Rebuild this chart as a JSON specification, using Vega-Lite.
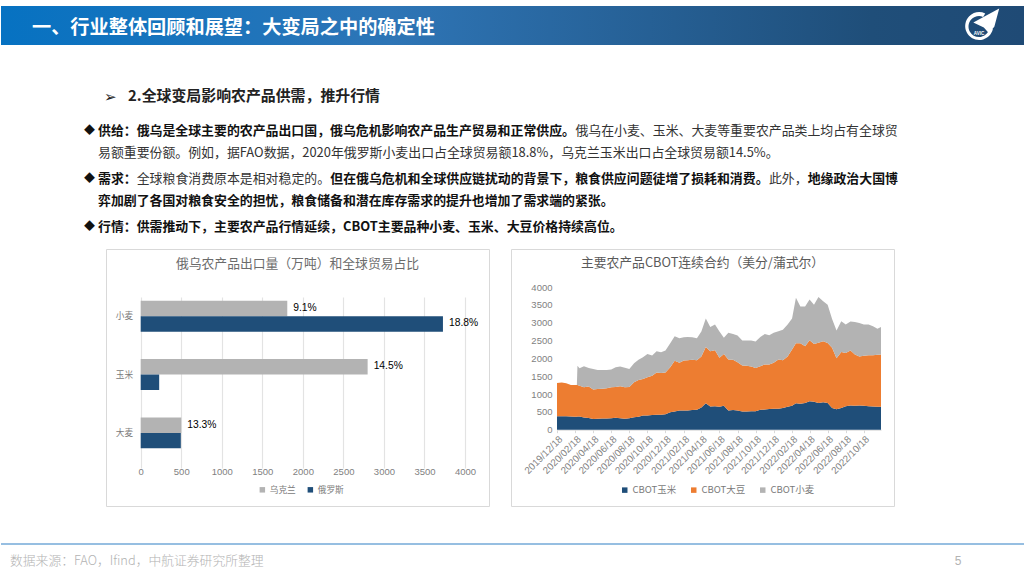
{
"$schema":"https://vega.github.io/schema/vega-lite/v6.json",
"padding":0,
"background":"white",
"bounds":"flush",
"spacing":0,
"resolve":{"scale":{"color":"independent"},"legend":{"color":"independent"}},
"config":{"view":{"stroke":null},"font":"Noto Sans CJK SC","concat":{"spacing":0}},
"datasets":{
"bars":[
{"crop":"小麦","country":"乌克兰","tons":1808,"share":"9.1%"},
{"crop":"小麦","country":"俄罗斯","tons":3728,"share":"18.8%"},
{"crop":"玉米","country":"乌克兰","tons":2799,"share":"14.5%"},
{"crop":"玉米","country":"俄罗斯","tons":228,"share":""},
{"crop":"大麦","country":"乌克兰","tons":500,"share":"13.3%"},
{"crop":"大麦","country":"俄罗斯","tons":495,"share":""}
],
"cbot":[
{"d":"2019-12-18","corn":380,"soy":930,"wheat":0},
{"d":"2020-01-03","corn":380,"soy":940,"wheat":0},
{"d":"2020-01-18","corn":375,"soy":925,"wheat":0},
{"d":"2020-02-03","corn":370,"soy":880,"wheat":0},
{"d":"2020-02-18","corn":365,"soy":885,"wheat":0},
{"d":"2020-02-23","corn":365,"soy":885,"wheat":0},
{"d":"2020-02-25","corn":370,"soy":880,"wheat":540},
{"d":"2020-03-03","corn":370,"soy":860,"wheat":490},
{"d":"2020-03-18","corn":340,"soy":850,"wheat":590},
{"d":"2020-04-03","corn":325,"soy":885,"wheat":520},
{"d":"2020-04-18","corn":300,"soy":830,"wheat":570},
{"d":"2020-05-03","corn":310,"soy":830,"wheat":530},
{"d":"2020-05-18","corn":315,"soy":835,"wheat":520},
{"d":"2020-06-03","corn":315,"soy":845,"wheat":510},
{"d":"2020-06-18","corn":320,"soy":870,"wheat":500},
{"d":"2020-07-03","corn":335,"soy":865,"wheat":550},
{"d":"2020-07-18","corn":320,"soy":900,"wheat":550},
{"d":"2020-08-03","corn":305,"soy":885,"wheat":550},
{"d":"2020-08-18","corn":320,"soy":880,"wheat":500},
{"d":"2020-09-03","corn":350,"soy":980,"wheat":530},
{"d":"2020-09-18","corn":360,"soy":1030,"wheat":570},
{"d":"2020-10-03","corn":395,"soy":1025,"wheat":610},
{"d":"2020-10-18","corn":395,"soy":1075,"wheat":650},
{"d":"2020-11-03","corn":410,"soy":1100,"wheat":570},
{"d":"2020-11-18","corn":420,"soy":1180,"wheat":600},
{"d":"2020-12-03","corn":420,"soy":1170,"wheat":580},
{"d":"2020-12-18","corn":430,"soy":1170,"wheat":620},
{"d":"2021-01-03","corn":490,"soy":1260,"wheat":670},
{"d":"2021-01-18","corn":510,"soy":1420,"wheat":690},
{"d":"2021-02-03","corn":540,"soy":1340,"wheat":680},
{"d":"2021-02-18","corn":540,"soy":1400,"wheat":650},
{"d":"2021-03-03","corn":540,"soy":1410,"wheat":650},
{"d":"2021-03-18","corn":550,"soy":1410,"wheat":630},
{"d":"2021-04-03","corn":560,"soy":1390,"wheat":610},
{"d":"2021-04-18","corn":620,"soy":1430,"wheat":700},
{"d":"2021-05-03","corn":740,"soy":1580,"wheat":800},
{"d":"2021-05-18","corn":650,"soy":1550,"wheat":680},
{"d":"2021-06-03","corn":660,"soy":1570,"wheat":720},
{"d":"2021-06-18","corn":640,"soy":1380,"wheat":730},
{"d":"2021-07-03","corn":670,"soy":1450,"wheat":460},
{"d":"2021-07-18","corn":540,"soy":1430,"wheat":750},
{"d":"2021-08-03","corn":550,"soy":1410,"wheat":720},
{"d":"2021-08-18","corn":540,"soy":1350,"wheat":750},
{"d":"2021-09-03","corn":510,"soy":1290,"wheat":700},
{"d":"2021-09-18","corn":510,"soy":1280,"wheat":710},
{"d":"2021-10-03","corn":520,"soy":1250,"wheat":730},
{"d":"2021-10-18","corn":520,"soy":1210,"wheat":740},
{"d":"2021-11-03","corn":560,"soy":1220,"wheat":820},
{"d":"2021-11-18","corn":565,"soy":1265,"wheat":850},
{"d":"2021-12-03","corn":580,"soy":1250,"wheat":820},
{"d":"2021-12-18","corn":590,"soy":1290,"wheat":840},
{"d":"2022-01-03","corn":590,"soy":1380,"wheat":790},
{"d":"2022-01-18","corn":610,"soy":1340,"wheat":850},
{"d":"2022-02-03","corn":640,"soy":1410,"wheat":900},
{"d":"2022-02-18","corn":670,"soy":1580,"wheat":870},
{"d":"2022-03-03","corn":740,"soy":1680,"wheat":1280},
{"d":"2022-03-18","corn":730,"soy":1690,"wheat":1030},
{"d":"2022-04-03","corn":750,"soy":1590,"wheat":1110},
{"d":"2022-04-18","corn":800,"soy":1710,"wheat":1140},
{"d":"2022-05-03","corn":780,"soy":1620,"wheat":1100},
{"d":"2022-05-18","corn":750,"soy":1690,"wheat":1280},
{"d":"2022-06-03","corn":770,"soy":1710,"wheat":1120},
{"d":"2022-06-18","corn":750,"soy":1680,"wheat":1070},
{"d":"2022-07-03","corn":610,"soy":1690,"wheat":800},
{"d":"2022-07-18","corn":570,"soy":1430,"wheat":780},
{"d":"2022-08-03","corn":610,"soy":1570,"wheat":860},
{"d":"2022-08-18","corn":660,"soy":1490,"wheat":800},
{"d":"2022-09-03","corn":680,"soy":1540,"wheat":810},
{"d":"2022-09-18","corn":670,"soy":1440,"wheat":910},
{"d":"2022-10-03","corn":680,"soy":1370,"wheat":940},
{"d":"2022-10-18","corn":670,"soy":1400,"wheat":880},
{"d":"2022-11-03","corn":660,"soy":1430,"wheat":860},
{"d":"2022-11-18","corn":650,"soy":1440,"wheat":810},
{"d":"2022-12-03","corn":640,"soy":1460,"wheat":730},
{"d":"2022-12-15","corn":640,"soy":1470,"wheat":770}
]
},
"vconcat":[
{"width":1024,"height":6,"data":{"values":[{"a":1}]},"mark":{"type":"rect","opacity":0},"encoding":{}},
{"width":1024,"height":39,
 "data":{"values":[{"a":1}]},
 "title":{"text":"一、行业整体回顾和展望：大变局之中的确定性","anchor":"start","color":"#ffffff","font":"Noto Sans CJK SC","fontWeight":"bold","fontSize":19.2,"dx":31,"dy":32.5,"offset":0,"frame":"group"},
 "layer":[
  {"mark":{"type":"rect","color":{"gradient":"linear","x1":0,"x2":1,"y1":0,"y2":0,"stops":[{"offset":0,"color":"#0672c2"},{"offset":0.38,"color":"#2e75b6"},{"offset":0.85,"color":"#1f4e79"},{"offset":1,"color":"#1f4a75"}]}},"encoding":{}},
  {"mark":{"type":"point","filled":true,"color":"#ffffff","opacity":1,"size":784,"shape":"M0.45,-0.9 A1,1 0 1 0 1,0.2 L0.75,0.15 A0.75,0.75 0 1 1 0.3,-0.65 Z"},"encoding":{"x":{"datum":0.955,"type":"quantitative","scale":{"domain":[0,1],"range":[0,1024]},"axis":null},"y":{"datum":0.513,"type":"quantitative","scale":{"domain":[0,1],"range":[0,39]},"axis":null}}},
  {"mark":{"type":"point","filled":true,"color":"#ffffff","opacity":1,"size":784,"shape":"M1.45,-1.25 L-0.4,-0.25 L0.35,0.1 L0.7,0.5 L1.1,0.05 Z"},"encoding":{"x":{"datum":0.955,"type":"quantitative"},"y":{"datum":0.513,"type":"quantitative"}}},
  {"mark":{"type":"text","text":"AVIC","color":"#ffffff","fontSize":4.5,"fontWeight":"bold","font":"Liberation Sans","align":"center","baseline":"middle"},"encoding":{"x":{"datum":0.955,"type":"quantitative"},"y":{"datum":0.718,"type":"quantitative"}}}
 ]},
{"width":1024,"height":204,
 "data":{"values":[
 {"line":-1.56,"col":2.33,"txt":"2.全球变局影响农产品供需，推升行情","w":"head"},
 {"line":-1.56,"col":0.46,"txt":"➢","w":"mark"},
 {"line":0,"col":-1.08,"txt":"◆","w":"dia"},
 {"line":0,"col":0,"txt":"供给：俄乌是全球主要的农产品出口国，俄乌危机影响农产品生产贸易和正常供应。","w":"bold"},
 {"line":0,"col":37,"txt":"俄乌在小麦、玉米、大麦等重要农产品类上均占有全球贸","w":"reg"},
 {"line":1,"col":0,"txt":"易额重要份额。例如，据FAO数据，2020年俄罗斯小麦出口占全球贸易额18.8%，乌克兰玉米出口占全球贸易额14.5%。","w":"reg"},
 {"line":2.2,"col":-1.08,"txt":"◆","w":"dia"},
 {"line":2.2,"col":0,"txt":"需求：","w":"bold"},
 {"line":2.2,"col":3,"txt":"全球粮食消费原本是相对稳定的。","w":"reg"},
 {"line":2.2,"col":18,"txt":"但在俄乌危机和全球供应链扰动的背景下，粮食供应问题徒增了损耗和消费。","w":"bold"},
 {"line":2.2,"col":52,"txt":"此外，","w":"reg"},
 {"line":2.2,"col":55,"txt":"地缘政治大国博","w":"bold"},
 {"line":3.2,"col":0,"txt":"弈加剧了各国对粮食安全的担忧，粮食储备和潜在库存需求的提升也增加了需求端的紧张。","w":"bold"},
 {"line":4.4,"col":-1.08,"txt":"◆","w":"dia"},
 {"line":4.4,"col":0,"txt":"行情：供需推动下，主要农产品行情延续，CBOT主要品种小麦、玉米、大豆价格持续高位。","w":"bold"}
 ]},
 "encoding":{
  "x":{"field":"col","type":"quantitative","scale":{"domain":[0,62],"range":[97,897]},"axis":null},
  "y":{"field":"line","type":"quantitative","scale":{"domain":[0,4.4],"range":[86,181.9]},"axis":null},
  "text":{"field":"txt"}
 },
 "layer":[
  {"transform":[{"filter":"datum.w=='reg'"}],"mark":{"type":"text","align":"left","baseline":"middle","fontSize":12.9,"color":"#333333","font":"Noto Sans CJK SC","fontWeight":"normal"}},
  {"transform":[{"filter":"datum.w=='bold'"}],"mark":{"type":"text","align":"left","baseline":"middle","fontSize":12.9,"color":"#111111","font":"Noto Sans CJK SC","fontWeight":"bold"}},
  {"transform":[{"filter":"datum.w=='dia'"}],"mark":{"type":"text","align":"left","baseline":"middle","fontSize":11,"color":"#111111","font":"Noto Sans CJK SC"}},
  {"transform":[{"filter":"datum.w=='head'"}],"mark":{"type":"text","align":"left","baseline":"middle","fontSize":14.9,"color":"#222222","font":"Noto Sans CJK SC","fontWeight":"bold"}},
  {"transform":[{"filter":"datum.w=='mark'"}],"mark":{"type":"text","align":"left","baseline":"middle","fontSize":15,"color":"#222222","font":"DejaVu Sans"}}
 ]},
{"bounds":"flush","spacing":0,
 "resolve":{"scale":{"color":"independent"},"legend":{"color":"independent"}},
 "hconcat":[
 {"width":105,"height":257,"data":{"values":[{"a":1}]},"mark":{"type":"rect","opacity":0},"encoding":{}},
 {"width":383,"height":257,
  "view":{"stroke":"#d9d9d9","strokeWidth":1},
  "data":{"name":"bars"},
  "title":{"text":"俄乌农产品出口量（万吨）和全球贸易占比","anchor":"middle","color":"#6b6b6b","font":"Noto Sans CJK SC","fontWeight":"normal","fontSize":12.8,"dy":22,"offset":0,"frame":"group"},
  "encoding":{
   "y":{"field":"crop","type":"nominal","sort":["小麦","玉米","大麦"],"title":null,
    "scale":{"domain":["小麦","玉米","大麦"],"range":[38,209],"paddingInner":0.47,"paddingOuter":0.2,"align":0.587},
    "axis":{"orient":"left","offset":-34.7,"domain":false,"ticks":false,"labelPadding":8,"labelFont":"Noto Sans CJK SC","labelFontSize":8.7,"labelColor":"#7a7a7a","grid":false}},
   "x":{"field":"tons","type":"quantitative","title":null,
    "scale":{"domain":[0,4000],"range":[34.7,359],"nice":false},
    "axis":{"orient":"bottom","offset":-48,"values":[0,500,1000,1500,2000,2500,3000,3500,4000],"format":"d","domain":false,"ticks":false,"labelPadding":8,"labelFont":"Liberation Sans","labelFontSize":9.5,"labelColor":"#7f7f7f","grid":true,"gridColor":"#e3e3e3","gridWidth":1.2,"labelFlush":false}},
   "yOffset":{"field":"country","type":"nominal","sort":["乌克兰","俄罗斯"],"scale":{"domain":["乌克兰","俄罗斯"],"paddingInner":0,"paddingOuter":0}}
  },
  "layer":[
   {"mark":{"type":"bar"},"encoding":{"color":{"field":"country","type":"nominal","scale":{"domain":["乌克兰","俄罗斯"],"range":["#b3b3b3","#1f4e79"]},
     "legend":{"title":null,"orient":"none","legendX":152,"legendY":236,"direction":"horizontal","symbolType":"square","symbolSize":30,"labelFont":"Noto Sans CJK SC","labelFontSize":8.7,"labelColor":"#7a7a7a","columnPadding":10,"symbolStrokeWidth":0,"labelOffset":3}}}},
   {"mark":{"type":"text","align":"left","baseline":"middle","dx":6,"dy":-0.5,"font":"Liberation Sans","fontSize":10.3,"color":"#000000"},"encoding":{"text":{"field":"share"}}}
  ]},
 {"width":22,"height":257,"data":{"values":[{"a":1}]},"mark":{"type":"rect","opacity":0},"encoding":{}},
 {"width":383,"height":257,
  "view":{"stroke":"#d9d9d9","strokeWidth":1},
  "data":{"name":"cbot"},
  "title":{"text":"主要农产品CBOT连续合约（美分/蒲式尔）","anchor":"middle","color":"#5a5a5a","font":"Noto Sans CJK SC","fontWeight":"normal","fontSize":12.8,"dy":21,"offset":0,"frame":"group"},
  "transform":[{"fold":["corn","soy","wheat"],"as":["series","value"]}],
  "mark":{"type":"area","interpolate":"linear"},
  "encoding":{
   "x":{"field":"d","type":"temporal","title":null,
    "scale":{"domain":["2019-12-18","2022-12-15"],"range":[46,370],"nice":false},
    "axis":{"orient":"bottom","offset":-76.3,"values":["2019-12-18","2020-02-18","2020-04-18","2020-06-18","2020-08-18","2020-10-18","2020-12-18","2021-02-18","2021-04-18","2021-06-18","2021-08-18","2021-10-18","2021-12-18","2022-02-18","2022-04-18","2022-06-18","2022-08-18","2022-10-18"],"format":"%Y/%m/%d","labelAngle":-45,"labelAlign":"right","labelBaseline":"top","domain":true,"domainColor":"#d9d9d9","ticks":true,"tickColor":"#d9d9d9","tickSize":3,"labelPadding":1,"labelFont":"Liberation Sans","labelFontSize":9.8,"labelColor":"#7f7f7f","grid":false,"labelFlush":false,"labelOverlap":false}},
   "y":{"field":"value","type":"quantitative","title":null,"stack":"zero",
    "scale":{"domain":[0,4000],"range":[180.7,38],"nice":false},
    "axis":{"orient":"left","offset":-46,"values":[0,500,1000,1500,2000,2500,3000,3500,4000],"format":"d","domain":false,"ticks":false,"labelPadding":5,"labelFont":"Liberation Sans","labelFontSize":9.5,"labelColor":"#7f7f7f","grid":false}},
   "order":{"field":"series","sort":"ascending"},
   "color":{"field":"series","type":"nominal","scale":{"domain":["corn","soy","wheat"],"range":["#1f4e79","#ed7d31","#b3b3b3"]},
    "legend":{"title":null,"orient":"none","legendX":109,"legendY":236,"direction":"horizontal","columns":3,"symbolType":"square","symbolSize":30,"labelFont":"Noto Sans CJK SC","labelFontSize":9.5,"labelColor":"#7a7a7a","columnPadding":12,"symbolStrokeWidth":0,"labelOffset":3,
     "labelExpr":"datum.label=='corn'?'CBOT玉米':datum.label=='soy'?'CBOT大豆':'CBOT小麦'"}}
  }}
]},
{"width":1024,"height":327,
 "data":{"values":[{"slot":0,"txt":"数据来源：FAO，Ifind，中航证券研究所整理"},{"slot":1,"txt":"5"}]},
 "layer":[
  {"mark":{"type":"rule","color":"#74a9d8","strokeWidth":1},"encoding":{"y":{"datum":1,"type":"quantitative","scale":{"domain":[0,1],"range":[329,295]},"axis":null}}},
  {"transform":[{"filter":"datum.slot==0"}],"mark":{"type":"text","align":"left","baseline":"middle","fontSize":12.8,"color":"#b3b3b3","font":"Noto Sans CJK SC","fontWeight":"300"},"encoding":{"x":{"field":"slot","type":"quantitative","scale":{"domain":[0,1],"range":[9,957]},"axis":null},"y":{"datum":0.5,"type":"quantitative"},"text":{"field":"txt"}}},
  {"transform":[{"filter":"datum.slot==1"}],"mark":{"type":"text","align":"center","baseline":"middle","fontSize":12,"color":"#b3b3b3","font":"Liberation Sans"},"encoding":{"x":{"field":"slot","type":"quantitative"},"y":{"datum":0.5,"type":"quantitative"},"text":{"field":"txt"}}}
 ]}
]
}
